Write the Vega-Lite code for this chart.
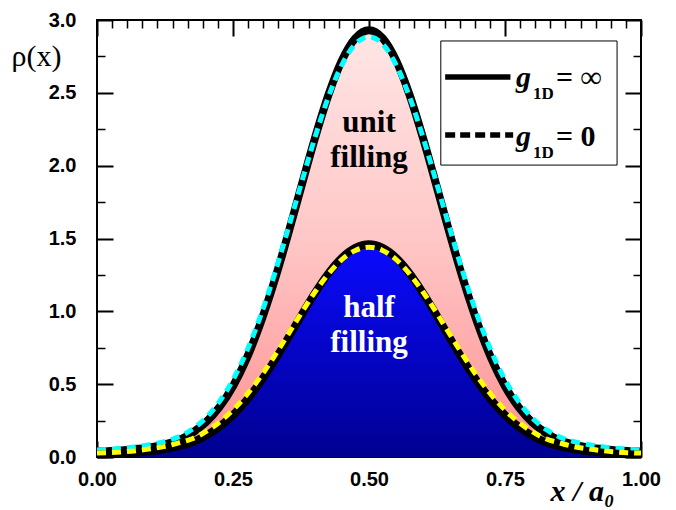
{
  "$schema": "https://vega.github.io/schema/vega-lite/v6.json",
  "width": 544,
  "height": 437,
  "autosize": {"type": "none"},
  "padding": {"left": 97, "top": 20, "right": 35, "bottom": 53},
  "background": "white",
  "config": {"view": {"stroke": "black", "strokeWidth": 2}},
  "datasets": {
    "curves": [
      {"x": 0, "unitInf": 0.037, "unitZero": 0.048, "halfInf": 0.017, "halfZero": 0.027},
      {"x": 0.025, "unitInf": 0.041, "unitZero": 0.053, "halfInf": 0.019, "halfZero": 0.030},
      {"x": 0.05, "unitInf": 0.047, "unitZero": 0.060, "halfInf": 0.024, "halfZero": 0.036},
      {"x": 0.075, "unitInf": 0.056, "unitZero": 0.072, "halfInf": 0.031, "halfZero": 0.045},
      {"x": 0.1, "unitInf": 0.068, "unitZero": 0.087, "halfInf": 0.041, "halfZero": 0.057},
      {"x": 0.125, "unitInf": 0.087, "unitZero": 0.107, "halfInf": 0.055, "halfZero": 0.073},
      {"x": 0.15, "unitInf": 0.115, "unitZero": 0.138, "halfInf": 0.075, "halfZero": 0.097},
      {"x": 0.175, "unitInf": 0.166, "unitZero": 0.190, "halfInf": 0.102, "halfZero": 0.125},
      {"x": 0.2, "unitInf": 0.238, "unitZero": 0.268, "halfInf": 0.146, "halfZero": 0.174},
      {"x": 0.225, "unitInf": 0.342, "unitZero": 0.380, "halfInf": 0.208, "halfZero": 0.239},
      {"x": 0.25, "unitInf": 0.486, "unitZero": 0.530, "halfInf": 0.288, "halfZero": 0.323},
      {"x": 0.275, "unitInf": 0.675, "unitZero": 0.724, "halfInf": 0.390, "halfZero": 0.426},
      {"x": 0.3, "unitInf": 0.913, "unitZero": 0.962, "halfInf": 0.513, "halfZero": 0.548},
      {"x": 0.325, "unitInf": 1.195, "unitZero": 1.240, "halfInf": 0.654, "halfZero": 0.686},
      {"x": 0.35, "unitInf": 1.512, "unitZero": 1.549, "halfInf": 0.808, "halfZero": 0.834},
      {"x": 0.375, "unitInf": 1.849, "unitZero": 1.871, "halfInf": 0.968, "halfZero": 0.985},
      {"x": 0.4, "unitInf": 2.181, "unitZero": 2.186, "halfInf": 1.122, "halfZero": 1.129},
      {"x": 0.425, "unitInf": 2.481, "unitZero": 2.468, "halfInf": 1.259, "halfZero": 1.255},
      {"x": 0.45, "unitInf": 2.721, "unitZero": 2.691, "halfInf": 1.367, "halfZero": 1.355},
      {"x": 0.475, "unitInf": 2.876, "unitZero": 2.835, "halfInf": 1.436, "halfZero": 1.418},
      {"x": 0.5, "unitInf": 2.930, "unitZero": 2.885, "halfInf": 1.460, "halfZero": 1.440},
      {"x": 0.525, "unitInf": 2.876, "unitZero": 2.835, "halfInf": 1.436, "halfZero": 1.418},
      {"x": 0.55, "unitInf": 2.721, "unitZero": 2.691, "halfInf": 1.367, "halfZero": 1.355},
      {"x": 0.575, "unitInf": 2.481, "unitZero": 2.468, "halfInf": 1.259, "halfZero": 1.255},
      {"x": 0.6, "unitInf": 2.181, "unitZero": 2.186, "halfInf": 1.122, "halfZero": 1.129},
      {"x": 0.625, "unitInf": 1.849, "unitZero": 1.871, "halfInf": 0.968, "halfZero": 0.985},
      {"x": 0.65, "unitInf": 1.512, "unitZero": 1.549, "halfInf": 0.808, "halfZero": 0.834},
      {"x": 0.675, "unitInf": 1.195, "unitZero": 1.240, "halfInf": 0.654, "halfZero": 0.686},
      {"x": 0.7, "unitInf": 0.913, "unitZero": 0.962, "halfInf": 0.513, "halfZero": 0.548},
      {"x": 0.725, "unitInf": 0.675, "unitZero": 0.724, "halfInf": 0.390, "halfZero": 0.426},
      {"x": 0.75, "unitInf": 0.486, "unitZero": 0.530, "halfInf": 0.288, "halfZero": 0.323},
      {"x": 0.775, "unitInf": 0.342, "unitZero": 0.380, "halfInf": 0.208, "halfZero": 0.239},
      {"x": 0.8, "unitInf": 0.238, "unitZero": 0.268, "halfInf": 0.146, "halfZero": 0.174},
      {"x": 0.825, "unitInf": 0.166, "unitZero": 0.190, "halfInf": 0.102, "halfZero": 0.125},
      {"x": 0.85, "unitInf": 0.115, "unitZero": 0.138, "halfInf": 0.075, "halfZero": 0.097},
      {"x": 0.875, "unitInf": 0.087, "unitZero": 0.107, "halfInf": 0.055, "halfZero": 0.073},
      {"x": 0.9, "unitInf": 0.068, "unitZero": 0.087, "halfInf": 0.041, "halfZero": 0.057},
      {"x": 0.925, "unitInf": 0.056, "unitZero": 0.072, "halfInf": 0.031, "halfZero": 0.045},
      {"x": 0.95, "unitInf": 0.047, "unitZero": 0.060, "halfInf": 0.024, "halfZero": 0.036},
      {"x": 0.975, "unitInf": 0.041, "unitZero": 0.053, "halfInf": 0.019, "halfZero": 0.030},
      {"x": 1, "unitInf": 0.037, "unitZero": 0.048, "halfInf": 0.017, "halfZero": 0.027}
    ],
    "labels": [
      {"x": 0.5, "y": 2.23, "text": "unit", "kind": "unit"},
      {"x": 0.5, "y": 1.99, "text": "filling", "kind": "unit"},
      {"x": 0.5, "y": 0.96, "text": "half", "kind": "half"},
      {"x": 0.5, "y": 0.72, "text": "filling", "kind": "half"}
    ],
    "legendBox": [
      {"x": 0.632, "x2": 0.956, "y": 2.004, "y2": 2.856}
    ],
    "legendLines": [
      {"x": 0.64, "x2": 0.76, "y": 2.609, "series": "g1D = ∞"},
      {"x": 0.64, "x2": 0.765, "y": 2.21, "series": "g1D = 0"}
    ],
    "legendText": [
      {"x": 0.77, "y": 2.6, "g": "g", "sub": "1D", "rest": "= ∞", "ys": 2.49},
      {"x": 0.77, "y": 2.2, "g": "g", "sub": "1D", "rest": "= 0", "ys": 2.09}
    ]
  },
  "resolve": {"axis": {"x": "independent", "y": "independent"}},
  "layer": [
    {
      "data": {"name": "curves"},
      "mark": {"type": "area", "interpolate": "monotone",
        "color": {"gradient": "linear", "x1": 0, "y1": 0, "x2": 0, "y2": 1,
          "stops": [{"offset": 0, "color": "#ffe6e6"}, {"offset": 0.5, "color": "#ffc6c6"}, {"offset": 1, "color": "#ff9090"}]}},
      "encoding": {
        "x": {"field": "x", "type": "quantitative", "scale": {"domain": [0, 1], "nice": false},
          "axis": {"orient": "bottom", "values": [0, 0.25, 0.5, 0.75, 1], "format": ".2f",
            "ticks": false, "domain": false,
            "grid": true, "gridColor": "black", "gridOpacity": 1, "gridWidth": 2, "gridDash": [16, 405, 16, 1000],
            "labelFont": "Liberation Sans", "labelFontWeight": "bold", "labelFontSize": 20, "labelColor": "black",
            "labelPadding": 12, "labelFlush": false,
            "title": "x / a₀", "titleFont": "Liberation Serif", "titleFontStyle": "italic", "titleFontWeight": "bold",
            "titleFontSize": 30, "titleColor": "black", "titleX": 485, "titleY": 43, "titleAlign": "center", "titleBaseline": "alphabetic"}},
        "y": {"field": "unitInf", "type": "quantitative", "scale": {"domain": [0, 3], "nice": false},
          "axis": {"orient": "left", "values": [0, 0.5, 1, 1.5, 2, 2.5, 3], "format": ".1f",
            "ticks": false, "domain": false,
            "grid": true, "gridColor": "black", "gridOpacity": 1, "gridWidth": 2, "gridDash": [16, 512, 16, 1000],
            "labelFont": "Liberation Sans", "labelFontWeight": "bold", "labelFontSize": 20, "labelColor": "black",
            "labelPadding": 21, "labelFlush": false,
            "title": "ρ(x)", "titleFont": "Liberation Serif", "titleFontWeight": "normal", "titleFontSize": 30,
            "titleColor": "black", "titleAngle": 0, "titleX": -61, "titleY": 36, "titleAlign": "center", "titleBaseline": "middle"}}
      }
    },
    {
      "data": {"name": "curves"},
      "mark": {"type": "area", "interpolate": "monotone",
        "color": {"gradient": "linear", "x1": 0, "y1": 0, "x2": 0, "y2": 1,
          "stops": [{"offset": 0, "color": "#0a0aff"}, {"offset": 1, "color": "#000090"}]}},
      "encoding": {
        "x": {"field": "x", "type": "quantitative",
          "axis": {"orient": "top", "values": [0.0278, 0.0556, 0.0833, 0.1111, 0.1389, 0.1667, 0.1944, 0.2222, 0.2778, 0.3056, 0.3333, 0.3611, 0.3889, 0.4167, 0.4444, 0.4722, 0.5278, 0.5556, 0.5833, 0.6111, 0.6389, 0.6667, 0.6944, 0.7222, 0.7778, 0.8056, 0.8333, 0.8611, 0.8889, 0.9167, 0.9444, 0.9722],
            "labels": false, "ticks": false, "domain": false, "title": null,
            "grid": true, "gridColor": "black", "gridOpacity": 1, "gridWidth": 1.5, "gridDash": [8, 421, 8, 1000]}},
        "y": {"field": "halfInf", "type": "quantitative",
          "axis": {"orient": "right", "values": [0.25, 0.75, 1.25, 1.75, 2.25, 2.75],
            "labels": false, "ticks": false, "domain": false, "title": null,
            "grid": true, "gridColor": "black", "gridOpacity": 1, "gridWidth": 1.5, "gridDash": [8, 528, 8, 1000]}}
      }
    },
    {
      "data": {"name": "curves"},
      "mark": {"type": "line", "interpolate": "monotone", "color": "black", "strokeWidth": 8},
      "encoding": {
        "x": {"field": "x", "type": "quantitative", "axis": null},
        "y": {"field": "unitInf", "type": "quantitative", "axis": null}
      }
    },
    {
      "data": {"name": "curves"},
      "mark": {"type": "line", "interpolate": "monotone", "color": "#00ffff", "strokeWidth": 5, "strokeDash": [9, 6]},
      "encoding": {
        "x": {"field": "x", "type": "quantitative", "axis": null},
        "y": {"field": "unitZero", "type": "quantitative", "axis": null}
      }
    },
    {
      "data": {"name": "curves"},
      "mark": {"type": "line", "interpolate": "monotone", "color": "black", "strokeWidth": 8},
      "encoding": {
        "x": {"field": "x", "type": "quantitative", "axis": null},
        "y": {"field": "halfInf", "type": "quantitative", "axis": null}
      }
    },
    {
      "data": {"name": "curves"},
      "mark": {"type": "line", "interpolate": "monotone", "color": "#ffff00", "strokeWidth": 5, "strokeDash": [9, 6]},
      "encoding": {
        "x": {"field": "x", "type": "quantitative", "axis": null},
        "y": {"field": "halfZero", "type": "quantitative", "axis": null}
      }
    },
    {
      "data": {"name": "labels"},
      "mark": {"type": "text", "font": "Liberation Serif", "fontWeight": "bold", "fontSize": 31, "align": "center", "baseline": "alphabetic"},
      "encoding": {
        "x": {"field": "x", "type": "quantitative", "axis": null},
        "y": {"field": "y", "type": "quantitative", "axis": null},
        "text": {"field": "text"},
        "color": {"field": "kind", "type": "nominal", "scale": {"domain": ["unit", "half"], "range": ["black", "white"]}, "legend": null}
      }
    },
    {
      "data": {"name": "legendBox"},
      "mark": {"type": "rect", "fill": "white", "stroke": "black", "strokeWidth": 1},
      "encoding": {
        "x": {"field": "x", "type": "quantitative", "axis": null},
        "x2": {"field": "x2"},
        "y": {"field": "y", "type": "quantitative", "axis": null},
        "y2": {"field": "y2"}
      }
    },
    {
      "data": {"name": "legendLines"},
      "mark": {"type": "rule", "color": "black", "strokeWidth": 5.5},
      "encoding": {
        "x": {"field": "x", "type": "quantitative", "axis": null},
        "x2": {"field": "x2"},
        "y": {"field": "y", "type": "quantitative", "axis": null},
        "strokeDash": {"field": "series", "type": "nominal", "scale": {"domain": ["g1D = ∞", "g1D = 0"], "range": [[1, 0], [10, 5]]}, "legend": null}
      }
    },
    {
      "data": {"name": "legendText"},
      "mark": {"type": "text", "font": "Liberation Serif", "fontWeight": "bold", "fontStyle": "italic", "fontSize": 30, "align": "left", "baseline": "middle", "color": "black"},
      "encoding": {
        "x": {"field": "x", "type": "quantitative", "axis": null},
        "y": {"field": "y", "type": "quantitative", "axis": null},
        "text": {"field": "g"}
      }
    },
    {
      "data": {"name": "legendText"},
      "mark": {"type": "text", "font": "Liberation Serif", "fontWeight": "bold", "fontSize": 17, "align": "left", "baseline": "middle", "color": "black", "dx": 17},
      "encoding": {
        "x": {"field": "x", "type": "quantitative", "axis": null},
        "y": {"field": "ys", "type": "quantitative", "axis": null},
        "text": {"field": "sub"}
      }
    },
    {
      "data": {"name": "legendText"},
      "mark": {"type": "text", "font": "Liberation Serif", "fontWeight": "bold", "fontSize": 30, "align": "left", "baseline": "middle", "color": "black", "dx": 40},
      "encoding": {
        "x": {"field": "x", "type": "quantitative", "axis": null},
        "y": {"field": "y", "type": "quantitative", "axis": null},
        "text": {"field": "rest"}
      }
    }
  ]
}
